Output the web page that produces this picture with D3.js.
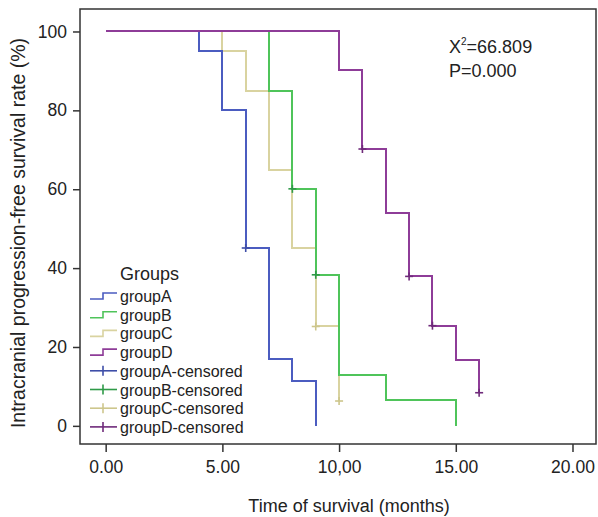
<!DOCTYPE html>
<meta charset="utf-8">
<head>
  <script src="https://cdn.jsdelivr.net/npm/d3@7"></script>
  <style>
    body { margin: 0; background: #fff; }
    text { font-family: "Liberation Sans", Arial, sans-serif; fill: #222; }
  </style>
</head>
<body>
<script>
// datos
var groups = ["groupA", "groupB", "groupC", "groupD"];
var colors = ["#4b5cc0", "#4fc45a", "#d9d3a0", "#8e3c98"];
var censColors = ["#3e4ea8", "#2f9a48", "#cdc68c", "#6f2a7a"];

// tiempos de cada escalon (meses) y supervivencia (%)
var timeA = [0, 4, 5, 6, 7, 8, 9];
var survA = [100, 95, 80, 45.1, 17, 11.4, 0];
var timeB = [0, 7, 8, 9, 10, 12, 15];
var survB = [100, 85, 60.1, 38.3, 12.8, 6.6, 0];
var timeC = [0, 5, 6, 7, 8, 9, 10];
var survC = [100, 95, 85, 65, 45.1, 25.2, 6.3];
var timeD = [0, 10, 11, 12, 13, 14, 15, 16];
var survD = [100, 90.3, 70.2, 54.1, 37.9, 25.4, 16.7, 8.4];

// censurados
var censTimeA = [6];
var censSurvA = [45.1];
var censTimeB = [8, 9];
var censSurvB = [60.1, 38.3];
var censTimeC = [9, 10];
var censSurvC = [25.2, 6.3];
var censTimeD = [11, 13, 14, 16];
var censSurvD = [70.2, 37.9, 25.4, 8.4];

var xTicks = [0, 5, 10, 15, 20];
var xTickLabels = ["0.00", "5.00", "10,00", "15.00", "20.00"];
var yTicks = [0, 20, 40, 60, 80, 100];

var legendLabels = ["groupA", "groupB", "groupC", "groupD",
  "groupA-censored", "groupB-censored", "groupC-censored", "groupD-censored"];

var W = 598, H = 517;
var frame = {left: 80, right: 597, top: 9, bottom: 444};

var x = d3.scaleLinear().domain([-1.1, 21.05]).range([frame.left, frame.right]);
var y = d3.scaleLinear().domain([-4.6, 105.7]).range([frame.bottom, frame.top]);

var svg = d3.select("body").append("svg")
  .attr("width", W).attr("height", H);

// ejes
var yAxis = d3.axisLeft(y).tickValues(yTicks).tickSize(7).tickPadding(6).tickSizeOuter(0);
var gy = svg.append("g").attr("transform", "translate(" + frame.left + ",0)").call(yAxis);
gy.select(".domain").remove();
gy.selectAll("line").attr("stroke", "#333").attr("stroke-width", 1.5);
gy.selectAll("text").style("font-size", "17.5px").attr("fill", "#222");

var xAxis = d3.axisBottom(x).tickValues(xTicks).tickSize(8).tickPadding(9)
  .tickFormat(function(d, i) { return xTickLabels[i]; });
var gx = svg.append("g").attr("transform", "translate(0," + frame.bottom + ")").call(xAxis);
gx.select(".domain").remove();
gx.selectAll("line").attr("stroke", "#333").attr("stroke-width", 1.5);
gx.selectAll("text").style("font-size", "17.5px").attr("fill", "#222");

// marco
svg.append("rect")
  .attr("x", frame.left).attr("y", frame.top)
  .attr("width", frame.right - frame.left - 1)
  .attr("height", frame.bottom - frame.top)
  .attr("fill", "none").attr("stroke", "#333").attr("stroke-width", 1.5);

// titulos
svg.append("text")
  .attr("transform", "translate(25,233) rotate(-90)")
  .attr("text-anchor", "middle")
  .style("font-size", "19.5px")
  .text("Intracranial progression-free survival rate (%)");

svg.append("text")
  .attr("x", 349).attr("y", 512)
  .attr("text-anchor", "middle")
  .style("font-size", "18px")
  .text("Time of survival (months)");

// curvas
var times = [timeA, timeB, timeC, timeD];
var survs = [survA, survB, survC, survD];
var censTimes = [censTimeA, censTimeB, censTimeC, censTimeD];
var censSurvs = [censSurvA, censSurvB, censSurvC, censSurvD];

var line = d3.line()
  .x(function(d) { return x(d[0]); })
  .y(function(d) { return y(d[1]); })
  .curve(d3.curveStepAfter);

var order = [2, 0, 1, 3];
order.forEach(function(g) {
  var pts = times[g].map(function(t, i) { return [t, survs[g][i]]; });
  svg.append("path")
    .datum(pts)
    .attr("d", line)
    .attr("fill", "none")
    .attr("stroke", colors[g])
    .attr("stroke-width", 2)
    .attr("shape-rendering", "crispEdges");
});

order.forEach(function(g) {
  var pts = censTimes[g].map(function(t, i) { return [t, censSurvs[g][i]]; });
  var m = svg.append("g").selectAll("g").data(pts).enter().append("g")
    .attr("transform", function(d) { return "translate(" + x(d[0]) + "," + y(d[1]) + ")"; });
  m.append("line").attr("x1", 0).attr("x2", 0).attr("y1", -4).attr("y2", 4)
    .attr("stroke", censColors[g]).attr("stroke-width", 1.6);
  m.append("line").attr("x1", -4).attr("x2", 4).attr("y1", 0).attr("y2", 0)
    .attr("stroke", censColors[g]).attr("stroke-width", 1.6);
});

// leyenda
var lg = svg.append("g");
lg.append("text").attr("x", 120).attr("y", 280).style("font-size", "18px").text("Groups");
legendLabels.forEach(function(lab, i) {
  var cy = 296 + i * 18.7;
  var g = i % 4;
  if (i < 4) {
    lg.append("path")
      .attr("d", "M90," + (cy + 3) + "H103V" + (cy - 3) + "H117")
      .attr("fill", "none").attr("stroke", colors[g]).attr("stroke-width", 1.6);
  } else {
    lg.append("line").attr("x1", 90).attr("x2", 117).attr("y1", cy).attr("y2", cy)
      .attr("stroke", censColors[g]).attr("stroke-width", 1.6);
    lg.append("line").attr("x1", 103).attr("x2", 103).attr("y1", cy - 5).attr("y2", cy + 5)
      .attr("stroke", censColors[g]).attr("stroke-width", 1.6);
  }
  lg.append("text").attr("x", 120).attr("y", cy + 6).style("font-size", "16px").text(lab);
});

// estadistico
var st = svg.append("text").attr("x", 449).attr("y", 53).style("font-size", "18px");
st.append("tspan").text("X");
st.append("tspan").attr("dy", -8).style("font-size", "10px").text("2");
st.append("tspan").attr("dy", 8).text("=66.809");
svg.append("text").attr("x", 449).attr("y", 77).style("font-size", "18px").text("P=0.000");
</script>
</body>
